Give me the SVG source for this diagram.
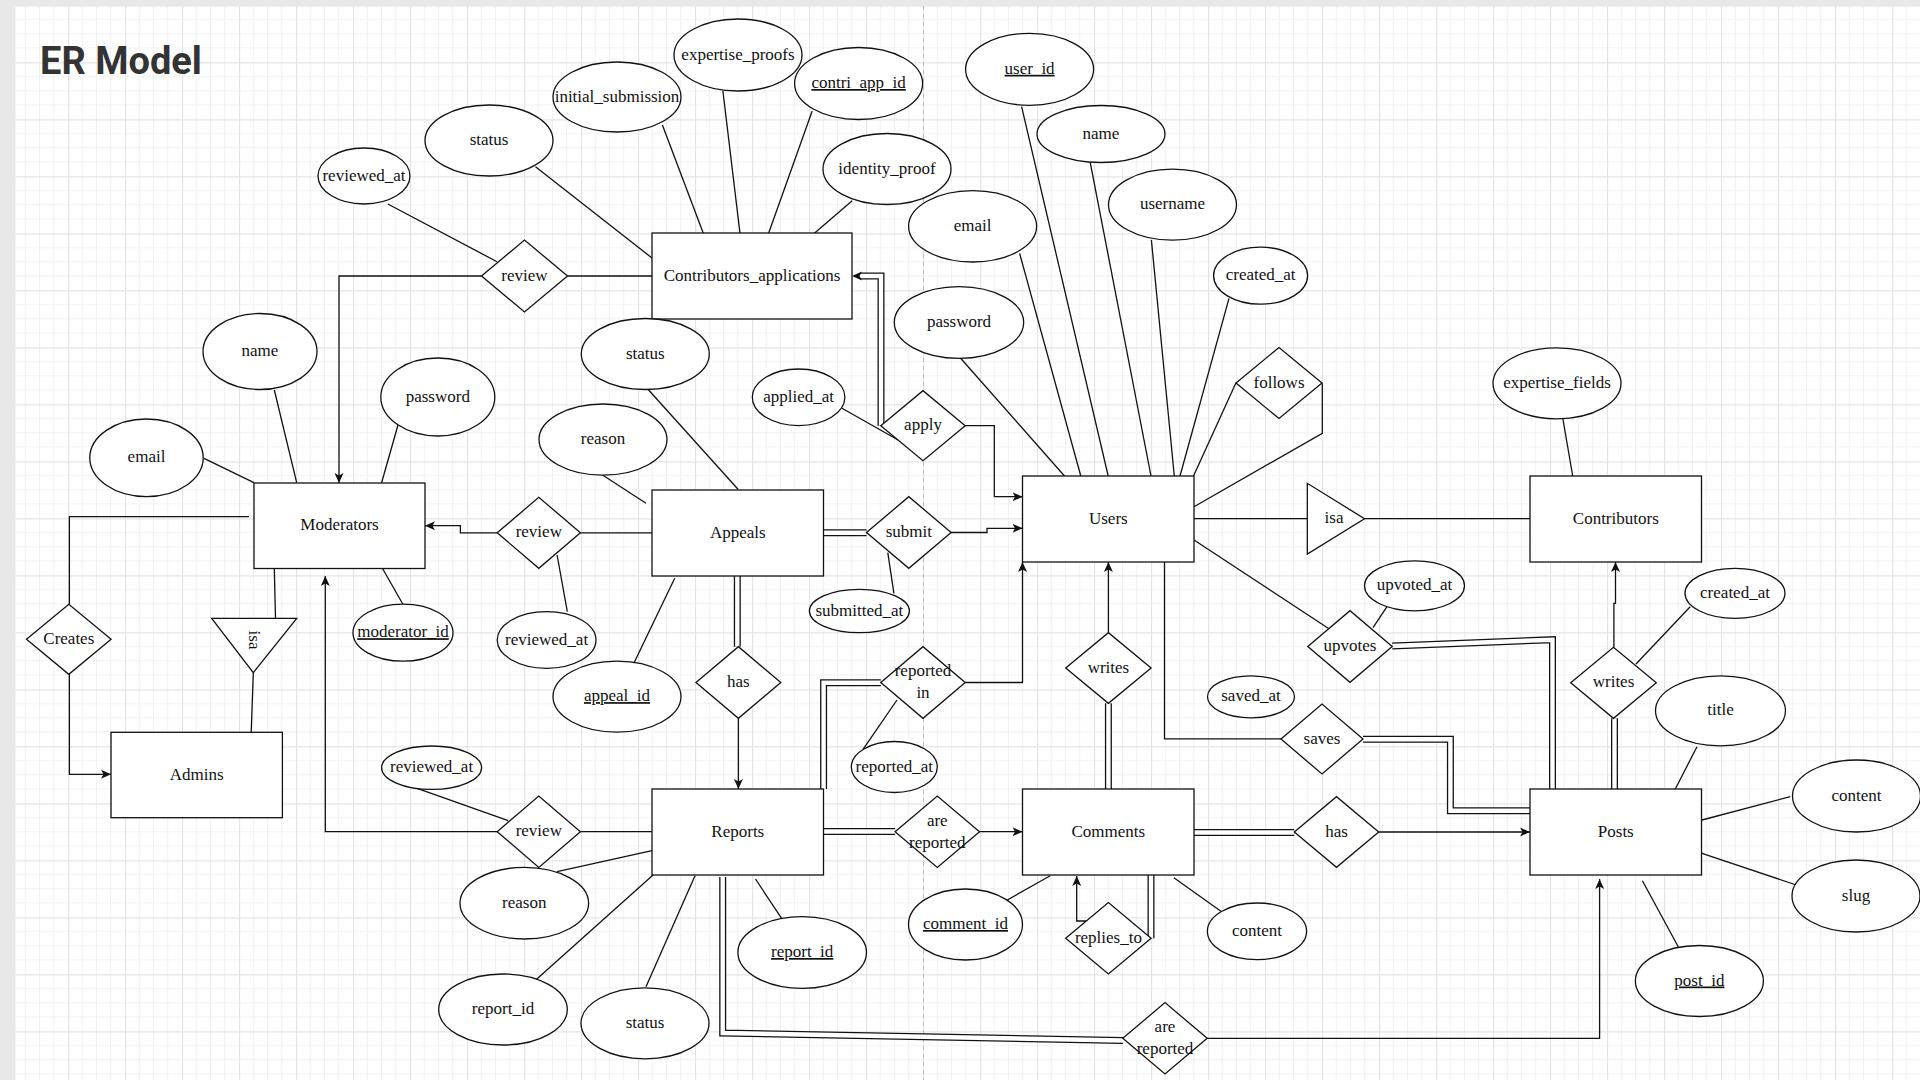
<svg xmlns="http://www.w3.org/2000/svg" width="1920" height="1080" viewBox="0 0 1920 1080">
<style>
.t{font-family:"Liberation Serif","Times New Roman",serif;font-size:17px;fill:#111;text-anchor:middle;transform:translateY(-1px)}
.u{text-decoration:underline}
.s{fill:#fff;stroke:#111;stroke-width:1.3}
.c{fill:none;stroke:#111;stroke-width:1.3}
.a{fill:none;stroke:#111;stroke-width:1.3;marker-end:url(#arr)}
.dbo{fill:none;stroke:#111;stroke-width:7;stroke-linejoin:miter}
.dbi{fill:none;stroke:#fff;stroke-width:4.4;stroke-linejoin:miter}
.title{font-family:Roboto,"Liberation Sans",sans-serif;font-weight:700;font-size:38px;fill:#333}
</style>
<defs>
<pattern id="grid" patternUnits="userSpaceOnUse" x="11" y="5.3" width="57" height="57">
<path d="M14.25 0V57M28.5 0V57M42.75 0V57M0 14.25H57M0 28.5H57M0 42.75H57" stroke="#f1f1f1" stroke-width="1" fill="none"/>
<path d="M0.5 0V57M0 0.5H57" stroke="#e3e3e3" stroke-width="1.3" fill="none"/>
</pattern>
<marker id="arr" markerUnits="userSpaceOnUse" markerWidth="12" markerHeight="12" refX="10" refY="5" orient="auto">
<path d="M0,0.5 L10,5 L0,9.5 L2.5,5 Z" fill="#111"/>
</marker>
</defs>
<rect width="1920" height="1080" fill="#e8e8e8"/>
<rect x="15.5" y="6" width="1904.5" height="1074" fill="#fff"/>
<rect x="15.5" y="6" width="1904.5" height="1074" fill="url(#grid)"/>
<line x1="923.5" y1="6" x2="923.5" y2="1080" stroke="#bdbdbd" stroke-width="1" stroke-dasharray="4 4"/>
<text class="title" x="40" y="74">ER Model</text>

<g id="connectors">
<path class="c" d="M387.8 204L497 261.7"/>
<path class="c" d="M535.5 166.7L652 258"/>
<path class="c" d="M662.4 125L703.3 233.3"/>
<path class="c" d="M722.9 91L740 233.3"/>
<path class="c" d="M812.2 111L768.6 233.3"/>
<path class="c" d="M852.2 200.7L813.5 234"/>
<path class="c" d="M567.3 276H652"/>
<path class="c" d="M204 458.3L253.9 482.7"/>
<path class="c" d="M274.3 390L296.7 482.7"/>
<path class="c" d="M398 425L381.6 482.7"/>
<path class="c" d="M402.9 604.3L382.4 568.3"/>
<path class="c" d="M274.3 568.3L275.5 618.3"/>
<path class="c" d="M253.3 672.7L251 738.3"/>
<path class="c" d="M648.2 389.5L738 489.3"/>
<path class="c" d="M602.5 475L646 503.3"/>
<path class="c" d="M580.4 532.8H652"/>
<path class="c" d="M557.1 555L567.3 611.7"/>
<path class="c" d="M674.7 578.3L633 665"/>
<path class="c" d="M887.8 552.7L893.9 593.3"/>
<path class="c" d="M842 408.3L901.2 441.7"/>
<path class="c" d="M960.4 358L1064.5 476"/>
<path class="c" d="M1019.6 253.3L1080.8 476"/>
<path class="c" d="M1021.6 106.7L1108.2 476"/>
<path class="c" d="M1090.2 162.3L1151 476"/>
<path class="c" d="M1151.4 240L1174.5 478"/>
<path class="c" d="M1229 298.3L1180 476"/>
<path class="c" d="M1236 382.7L1193.5 476"/>
<path class="c" d="M1322.3 383.3V433.3L1194 506.8"/>
<path class="c" d="M1194 518.7H1307.3"/>
<path class="c" d="M1364.5 518.7H1530"/>
<path class="c" d="M1194 540L1329 628.7"/>
<path class="c" d="M1373 627.7L1387 606.7"/>
<path class="c" d="M1164.5 562V738.8H1281"/>
<path class="c" d="M1562.9 419L1572.7 476"/>
<path class="c" d="M1636 664L1690.2 606.7"/>
<path class="c" d="M1697 746.7L1673.9 791.7"/>
<path class="c" d="M1790.2 796.7L1702 820"/>
<path class="c" d="M1702 853.3L1796.3 885"/>
<path class="c" d="M1642.4 880.7L1680 950"/>
<path class="c" d="M1007.3 900L1050.2 875.7"/>
<path class="c" d="M1221.6 911.7L1173.9 877.7"/>
<path class="c" d="M863 749.4L897 700"/>
<path class="c" d="M412.2 786.7L508.2 820.7"/>
<path class="c" d="M557.1 871.7L652 850.6"/>
<path class="c" d="M536.3 979.6L653.9 874.3"/>
<path class="c" d="M646 986.7L695 875.7"/>
<path class="c" d="M783.7 921.7L755.5 879"/>
<path class="c" d="M580.4 831.7H652"/>
<path class="c" d="M249 516.7H69.4V604.3"/>
<path class="a" d="M481.6 276H339V483"/>
<path class="a" d="M497 532.8H460.4V525.7H425"/>
<path class="a" d="M497 831.7H325.3V576"/>
<path class="a" d="M69.4 674.3V774.3H111"/>
<path class="a" d="M965.3 425.7H994.3V496.7H1022.5"/>
<path class="a" d="M951 532.5H987V528.3H1022.5"/>
<path class="a" d="M965.3 682.5H1022.5V562"/>
<path class="a" d="M1108.4 632.7V562"/>
<path class="a" d="M738.4 718.3V789"/>
<path class="a" d="M979.6 831.7H1022.5"/>
<path class="a" d="M1086 921H1076.7V876"/>
<path class="a" d="M1378.8 832H1530"/>
<path class="a" d="M1207.3 1038.3H1599.6V879"/>
<path class="a" d="M1613.9 647.3V603.3H1615.5V562"/>
<g>
<path class="dbo" d="M881 425.7V276H860"/>
<path class="dbo" d="M823.7 532.8H866.5"/>
<path class="dbo" d="M737.3 575.7V646.7"/>
<path class="dbo" d="M880.8 682.8H823.6V789"/>
<path class="dbo" d="M823.7 831.5H895.1"/>
<path class="dbo" d="M1108.4 789V703.3"/>
<path class="dbo" d="M1151 938.3V875"/>
<path class="dbo" d="M1193.9 832.5H1294.3"/>
<path class="dbo" d="M1363 739.3H1450.4V810.8H1530"/>
<path class="dbo" d="M1392.2 646L1552.5 639.7V789"/>
<path class="dbo" d="M1614.5 718.3V789"/>
<path class="dbo" d="M722.7 877V1033L1123 1040.5"/>
<path class="dbi" d="M881 425.7V276H860"/>
<path class="dbi" d="M823.7 532.8H866.5"/>
<path class="dbi" d="M737.3 575.7V646.7"/>
<path class="dbi" d="M880.8 682.8H823.6V789"/>
<path class="dbi" d="M823.7 831.5H895.1"/>
<path class="dbi" d="M1108.4 789V703.3"/>
<path class="dbi" d="M1151 938.3V875"/>
<path class="dbi" d="M1193.9 832.5H1294.3"/>
<path class="dbi" d="M1363 739.3H1450.4V810.8H1530"/>
<path class="dbi" d="M1392.2 646L1552.5 639.7V789"/>
<path class="dbi" d="M1614.5 718.3V789"/>
<path class="dbi" d="M722.7 877V1033L1123 1040.5"/>
<path d="M852,276 L862,271.5 L859.5,276 L862,280.5 Z" fill="#111"/>
</g>
</g>

<g id="Contributors_applications"><rect class="s" x="652" y="233" width="200" height="86"/><text class="t" x="752" y="281.5">Contributors_applications</text></g>
<g id="Moderators"><rect class="s" x="254" y="483" width="171" height="85.5"/><text class="t" x="339.5" y="531">Moderators</text></g>
<g id="Appeals"><rect class="s" x="652" y="490" width="171.5" height="86"/><text class="t" x="737.8" y="538.5">Appeals</text></g>
<g id="Users"><rect class="s" x="1022.5" y="476" width="171.5" height="86"/><text class="t" x="1108.3" y="524.5">Users</text></g>
<g id="Contributors"><rect class="s" x="1530" y="476" width="171.5" height="86"/><text class="t" x="1615.8" y="524.5">Contributors</text></g>
<g id="Admins"><rect class="s" x="111" y="732.3" width="171.4" height="85.4"/><text class="t" x="196.7" y="780.5">Admins</text></g>
<g id="Reports"><rect class="s" x="652" y="789" width="171.5" height="86"/><text class="t" x="737.8" y="837.5">Reports</text></g>
<g id="Comments"><rect class="s" x="1022.5" y="789" width="171.5" height="86"/><text class="t" x="1108.3" y="837.5">Comments</text></g>
<g id="Posts"><rect class="s" x="1530" y="789" width="171.5" height="86"/><text class="t" x="1615.8" y="837.5">Posts</text></g>

<g id="review_ca"><path class="s" d="M481.5 276L524.5 240L567.5 276L524.5 312Z"/><text class="t" x="524.5" y="281.5">review</text></g>
<g id="review_appeals"><path class="s" d="M497.2 532.8L538.8 497.3L580.4 532.8L538.8 568.3Z"/><text class="t" x="538.8" y="538.3">review</text></g>
<g id="review_reports"><path class="s" d="M497.2 831.7L538.8 796L580.4 831.7L538.8 867.4Z"/><text class="t" x="538.8" y="837.2">review</text></g>
<g id="creates"><path class="s" d="M26.5 639.3L68.8 604.3L111.1 639.3L68.8 674.3Z"/><text class="t" x="68.8" y="644.8">Creates</text></g>
<g id="apply"><path class="s" d="M880.8 425.7L923 390.7L965.2 425.7L923 460.7Z"/><text class="t" x="923" y="431.2">apply</text></g>
<g id="submit"><path class="s" d="M866.5 532.5L908.8 496.7L951.1 532.5L908.8 568.3Z"/><text class="t" x="908.8" y="538">submit</text></g>
<g id="has_appeals"><path class="s" d="M696 682.5L738.4 646.7L780.8 682.5L738.4 718.3Z"/><text class="t" x="738.4" y="688">has</text></g>
<g id="reported_in"><path class="s" d="M880.8 682.5L923 646.7L965.2 682.5L923 718.3Z"/><text class="t" x="923" y="677">reported</text><text class="t" x="923" y="699">in</text></g>
<g id="are_reported_comments"><path class="s" d="M895.1 831.7L937.3 796L979.5 831.7L937.3 867.4Z"/><text class="t" x="937.3" y="826.5">are</text><text class="t" x="937.3" y="848.5">reported</text></g>
<g id="writes_comments"><path class="s" d="M1065.7 668L1108.4 632.7L1151.1 668L1108.4 703.3Z"/><text class="t" x="1108.4" y="673.5">writes</text></g>
<g id="replies_to"><path class="s" d="M1065.7 938.3L1108.4 902.6L1151.1 938.3L1108.4 974Z"/><text class="t" x="1108.4" y="943.8">replies_to</text></g>
<g id="follows"><path class="s" d="M1236 383L1279 347.5L1322 383L1279 418.5Z"/><text class="t" x="1279" y="388.5">follows</text></g>
<g id="upvotes"><path class="s" d="M1307.8 646.5L1350 610.7L1392.2 646.5L1350 682.3Z"/><text class="t" x="1350" y="652">upvotes</text></g>
<g id="saves"><path class="s" d="M1281 739L1322 704L1363 739L1322 774Z"/><text class="t" x="1322" y="744.5">saves</text></g>
<g id="has_posts"><path class="s" d="M1294.3 832L1336.5 796.7L1378.7 832L1336.5 867.3Z"/><text class="t" x="1336.5" y="837.5">has</text></g>
<g id="writes_posts"><path class="s" d="M1570.7 682.8L1613.5 647.3L1656.3 682.8L1613.5 718.3Z"/><text class="t" x="1613.5" y="688.3">writes</text></g>
<g id="are_reported_posts"><path class="s" d="M1122.8 1038.3L1165 1002.6L1207.2 1038.3L1165 1074Z"/><text class="t" x="1165" y="1033">are</text><text class="t" x="1165" y="1055">reported</text></g>
<g id="isa_moderators"><path class="s" d="M211.7 618.3H296.7L253.3 672.7Z"/><g transform="translate(253.3 640) rotate(90)"><text class="t" x="0" y="5.5">isa</text></g></g>
<g id="isa_contributors"><path class="s" d="M1307.3 483.3V554L1364.5 518.7Z"/><text class="t" x="1334" y="524.2">isa</text></g>

<g id="attr_reviewed_at_ca"><ellipse class="s" cx="364" cy="176" rx="46" ry="28"/><text class="t" x="364" y="181.5">reviewed_at</text></g>
<g id="attr_status_ca"><ellipse class="s" cx="489" cy="140.5" rx="64" ry="35.5"/><text class="t" x="489" y="146">status</text></g>
<g id="attr_initial_submission"><ellipse class="s" cx="617" cy="97" rx="64" ry="35"/><text class="t" x="617" y="102.5">initial_submission</text></g>
<g id="attr_expertise_proofs"><ellipse class="s" cx="738" cy="55" rx="64" ry="36"/><text class="t" x="738" y="60.5">expertise_proofs</text></g>
<g id="attr_contri_app_id"><ellipse class="s" cx="858.6" cy="83.5" rx="64" ry="36"/><text class="t u" x="858.6" y="89">contri_app_id</text></g>
<g id="attr_identity_proof"><ellipse class="s" cx="887" cy="169" rx="64" ry="35.5"/><text class="t" x="887" y="174.5">identity_proof</text></g>
<g id="attr_user_id"><ellipse class="s" cx="1029.6" cy="69.3" rx="64" ry="36"/><text class="t u" x="1029.6" y="74.8">user_id</text></g>
<g id="attr_name_users"><ellipse class="s" cx="1101" cy="134" rx="64" ry="28.5"/><text class="t" x="1101" y="139.5">name</text></g>
<g id="attr_username"><ellipse class="s" cx="1172.5" cy="204.7" rx="64" ry="35.5"/><text class="t" x="1172.5" y="210.2">username</text></g>
<g id="attr_email_users"><ellipse class="s" cx="972.6" cy="226.3" rx="64" ry="35.7"/><text class="t" x="972.6" y="231.8">email</text></g>
<g id="attr_password_users"><ellipse class="s" cx="959" cy="322.5" rx="64.7" ry="35.8"/><text class="t" x="959" y="328">password</text></g>
<g id="attr_created_at_users"><ellipse class="s" cx="1260.6" cy="275.7" rx="47" ry="28.5"/><text class="t" x="1260.6" y="281.2">created_at</text></g>
<g id="attr_name_mod"><ellipse class="s" cx="260" cy="351.5" rx="57" ry="38"/><text class="t" x="260" y="357">name</text></g>
<g id="attr_password_mod"><ellipse class="s" cx="437.8" cy="397" rx="57" ry="39"/><text class="t" x="437.8" y="402.5">password</text></g>
<g id="attr_email_mod"><ellipse class="s" cx="146.5" cy="457.8" rx="56.7" ry="38.8"/><text class="t" x="146.5" y="463.3">email</text></g>
<g id="attr_moderator_id"><ellipse class="s" cx="403" cy="632.7" rx="50" ry="28.5"/><text class="t u" x="403" y="638.2">moderator_id</text></g>
<g id="attr_status_appeals"><ellipse class="s" cx="645.3" cy="354" rx="64" ry="35.5"/><text class="t" x="645.3" y="359.5">status</text></g>
<g id="attr_reason_appeals"><ellipse class="s" cx="603" cy="439.6" rx="64" ry="35.6"/><text class="t" x="603" y="445.1">reason</text></g>
<g id="attr_applied_at"><ellipse class="s" cx="798.6" cy="397.3" rx="46.3" ry="28.3"/><text class="t" x="798.6" y="402.8">applied_at</text></g>
<g id="attr_reviewed_at_appeals"><ellipse class="s" cx="546.6" cy="640" rx="49.4" ry="28.3"/><text class="t" x="546.6" y="645.5">reviewed_at</text></g>
<g id="attr_appeal_id"><ellipse class="s" cx="617" cy="696.6" rx="64" ry="35.5"/><text class="t u" x="617" y="702.1">appeal_id</text></g>
<g id="attr_submitted_at"><ellipse class="s" cx="859.4" cy="611" rx="50" ry="21.7"/><text class="t" x="859.4" y="616.5">submitted_at</text></g>
<g id="attr_reported_at"><ellipse class="s" cx="894.3" cy="767" rx="43" ry="25.5"/><text class="t" x="894.3" y="772.5">reported_at</text></g>
<g id="attr_reviewed_at_reports"><ellipse class="s" cx="431.6" cy="767.7" rx="50" ry="21.7"/><text class="t" x="431.6" y="773.2">reviewed_at</text></g>
<g id="attr_reason_reports"><ellipse class="s" cx="524.3" cy="903.2" rx="64.3" ry="35.8"/><text class="t" x="524.3" y="908.7">reason</text></g>
<g id="attr_report_id_plain"><ellipse class="s" cx="503" cy="1009.5" rx="64.3" ry="35.5"/><text class="t" x="503" y="1015">report_id</text></g>
<g id="attr_status_reports"><ellipse class="s" cx="645" cy="1023.3" rx="64" ry="35.5"/><text class="t" x="645" y="1028.8">status</text></g>
<g id="attr_report_id"><ellipse class="s" cx="802.2" cy="952.5" rx="64.3" ry="35.8"/><text class="t u" x="802.2" y="958">report_id</text></g>
<g id="attr_comment_id"><ellipse class="s" cx="965.5" cy="924.5" rx="57" ry="35.5"/><text class="t u" x="965.5" y="930">comment_id</text></g>
<g id="attr_content_comments"><ellipse class="s" cx="1257" cy="931.3" rx="49.6" ry="28.3"/><text class="t" x="1257" y="936.8">content</text></g>
<g id="attr_saved_at"><ellipse class="s" cx="1251" cy="696.8" rx="43.5" ry="21"/><text class="t" x="1251" y="702.3">saved_at</text></g>
<g id="attr_upvoted_at"><ellipse class="s" cx="1414.5" cy="585.8" rx="50" ry="25"/><text class="t" x="1414.5" y="591.3">upvoted_at</text></g>
<g id="attr_expertise_fields"><ellipse class="s" cx="1557" cy="383.3" rx="64" ry="35.5"/><text class="t" x="1557" y="388.8">expertise_fields</text></g>
<g id="attr_created_at_posts"><ellipse class="s" cx="1735" cy="593.3" rx="50" ry="25"/><text class="t" x="1735" y="598.8">created_at</text></g>
<g id="attr_title"><ellipse class="s" cx="1720.5" cy="710.8" rx="65" ry="35"/><text class="t" x="1720.5" y="716.3">title</text></g>
<g id="attr_content_posts"><ellipse class="s" cx="1856.5" cy="796" rx="64" ry="36"/><text class="t" x="1856.5" y="801.5">content</text></g>
<g id="attr_slug"><ellipse class="s" cx="1856" cy="896" rx="64" ry="36"/><text class="t" x="1856" y="901.5">slug</text></g>
<g id="attr_post_id"><ellipse class="s" cx="1699.4" cy="981" rx="64" ry="35.5"/><text class="t u" x="1699.4" y="986.5">post_id</text></g>
</svg>
